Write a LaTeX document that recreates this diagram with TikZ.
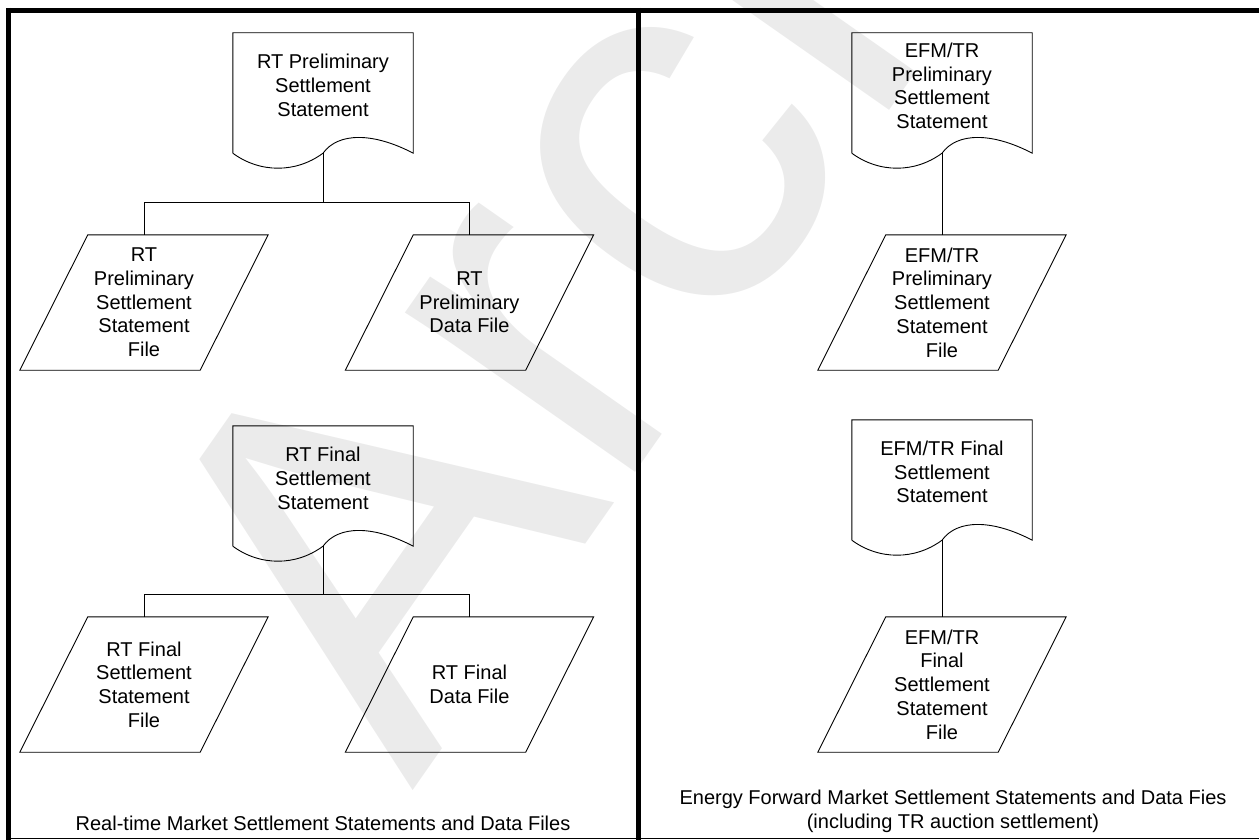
\documentclass[tikz,border=0pt]{standalone}
\usepackage{fontspec}
\setmainfont{Liberation Sans}
\usetikzlibrary{calc}
\tikzset{
  lbl/.style={align=center, font=\fontsize{20}{23.7}\selectfont, inner sep=0pt},
  docnode/.style={minimum width=180pt, minimum height=120pt, inner sep=0pt},
  ionode/.style={lbl, minimum width=180pt, minimum height=135pt},
  outline/.style={draw=black, line width=0.9pt},
  conn/.style={draw=black, line width=0.9pt},
  frameline/.style={draw=black, line width=5pt},
  wmark/.style={rotate=55, anchor=base west, text=black!8, inner sep=0pt,
    font=\fontsize{530}{530}\selectfont},
}
\newcommand\docoutline[1]{%
  \draw[outline] (#1.south west) -- (#1.north west) -- (#1.north east) -- (#1.south east)
    .. controls ($(#1.south east)+(-40,-21)$) and ($(#1.south east)+(-75,-21)$) .. (#1.south)
    .. controls ($(#1.south)+(-27,20)$) and ($(#1.south)+(-63,20)$) .. (#1.south west);
}
\newcommand\iooutline[1]{%
  \draw[outline] ([xshift=34pt]#1.north west) -- ([xshift=34pt]#1.north east)
    -- ([xshift=-34pt]#1.south east) -- ([xshift=-34pt]#1.south west) -- cycle;
}
\begin{document}
\begin{tikzpicture}[x=1pt,y=-1pt]
\useasboundingbox (0,0) rectangle (1259,840);
\begin{scope}
\clip (0,0) rectangle (1259,840);
\node[wmark] (wm) at (412,792) {Archive};
\end{scope}

% frame
\draw[frameline] (8.5,8) -- (8.5,840);
\draw[frameline] (6,10.5) -- (1259,10.5);
\draw[frameline] (638,8) -- (638,840);
\draw[draw=black, line width=1.5pt] (6,838.5) -- (1259,838.5);

% ---------- left panel ----------
\node[docnode] (rp) at (323,93) {};
\docoutline{rp}
\node[lbl] (rpt) at ($(rp.center)+(0,-7.5)$) {RT Preliminary\\Settlement\\Statement};

\node[ionode] (rpsf) at (144,302.5) {RT\\Preliminary\\Settlement\\Statement\\File};
\iooutline{rpsf}
\node[ionode] (rpdf) at (469.5,302.5) {RT\\Preliminary\\Data File};
\iooutline{rpdf}

\draw[conn] (rp.south) -- ++(0,49) coordinate (rj) -| (rpsf.north);
\draw[conn] (rj) -| (rpdf.north);

\node[docnode] (rf) at (323,486) {};
\docoutline{rf}
\node[lbl] (rft) at ($(rf.center)+(0,-7.5)$) {RT Final\\Settlement\\Statement};

\node[ionode] (rfsf) at (144,684.5) {RT Final\\Settlement\\Statement\\File};
\iooutline{rfsf}
\node[ionode] (rfdf) at (469.5,684.5) {RT Final\\Data File};
\iooutline{rfdf}

\draw[conn] (rf.south) -- ++(0,48) coordinate (fj) -| (rfsf.north);
\draw[conn] (fj) -| (rfdf.north);

\node[lbl] (cap1) at (323,823) {Real-time Market Settlement Statements and Data Files};

% ---------- right panel ----------
\node[docnode] (ep) at (942,93) {};
\docoutline{ep}
\node[lbl] (ept) at ($(ep.center)+(0,-7)$) {EFM/TR\\Preliminary\\Settlement\\Statement};

\node[ionode] (epsf) at (942,302.5) {EFM/TR\\Preliminary\\Settlement\\Statement\\File};
\iooutline{epsf}
\draw[conn] (ep.south) -- (epsf.north);

\node[docnode] (ef) at (942,480) {};
\docoutline{ef}
\node[lbl] (eft) at ($(ef.center)+(0,-8)$) {EFM/TR Final\\Settlement\\Statement};

\node[ionode] (efsf) at (942,684.5) {EFM/TR\\Final\\Settlement\\Statement\\File};
\iooutline{efsf}
\draw[conn] (ef.south) -- (efsf.north);

\node[lbl] (cap2) at (953,811) {Energy Forward Market Settlement Statements and Data Fies\\(including TR auction settlement)};
\end{tikzpicture}
\end{document}
